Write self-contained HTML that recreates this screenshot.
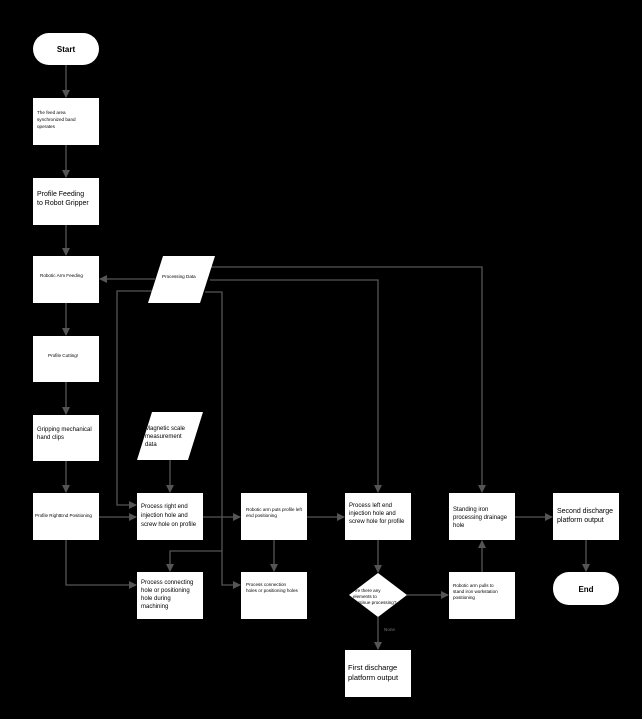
<!DOCTYPE html>
<html><head><meta charset="utf-8"><style>
html,body{margin:0;padding:0;background:#000;}
svg{display:block;}
text{font-family:"Liberation Sans",sans-serif;fill:#000;}
</style></head><body>
<svg width="642" height="719" viewBox="0 0 642 719" xmlns="http://www.w3.org/2000/svg">
<defs><marker id="a" markerWidth="8" markerHeight="8" refX="7" refY="4" orient="auto" markerUnits="userSpaceOnUse"><path d="M0,0 L8,4 L0,8 z" fill="#555"/></marker></defs>
<rect width="642" height="719" fill="#000"/>
<g stroke="#555" stroke-width="1.3" fill="none">
<line x1="66" y1="65" x2="66" y2="97" marker-end="url(#a)"/>
<line x1="66" y1="145" x2="66" y2="177" marker-end="url(#a)"/>
<line x1="66" y1="225" x2="66" y2="255" marker-end="url(#a)"/>
<line x1="66" y1="303" x2="66" y2="335" marker-end="url(#a)"/>
<line x1="66" y1="382" x2="66" y2="414" marker-end="url(#a)"/>
<line x1="66" y1="461" x2="66" y2="492" marker-end="url(#a)"/>
<line x1="155" y1="279" x2="100" y2="279" marker-end="url(#a)"/>
<polyline points="208,267 482,267 482,492" marker-end="url(#a)"/>
<polyline points="210,280 378,280 378,492" marker-end="url(#a)"/>
<polyline points="152,291 117,291 117,505 136,505" marker-end="url(#a)"/>
<polyline points="205,292 222,292 222,585 240,585" marker-end="url(#a)"/>
<polyline points="222,551 170,551 170,571" marker-end="url(#a)"/>
<line x1="170" y1="460" x2="170" y2="492" marker-end="url(#a)"/>
<line x1="99" y1="517" x2="136" y2="517" marker-end="url(#a)"/>
<line x1="203" y1="517" x2="240" y2="517" marker-end="url(#a)"/>
<line x1="307" y1="517" x2="344" y2="517" marker-end="url(#a)"/>
<line x1="515" y1="517" x2="552" y2="517" marker-end="url(#a)"/>
<polyline points="66,540 66,585 136,585" marker-end="url(#a)"/>
<line x1="274" y1="540" x2="274" y2="571" marker-end="url(#a)"/>
<line x1="378" y1="540" x2="378" y2="572" marker-end="url(#a)"/>
<line x1="407" y1="595" x2="448" y2="595" marker-end="url(#a)"/>
<line x1="482" y1="572" x2="482" y2="541" marker-end="url(#a)"/>
<line x1="586" y1="540" x2="586" y2="571" marker-end="url(#a)"/>
<line x1="378" y1="617" x2="378" y2="649" marker-end="url(#a)"/>
</g>
<g fill="#fff">
<rect x="33" y="33" width="66" height="32" rx="16"/>
<rect x="33" y="98" width="66" height="47"/>
<rect x="33" y="178" width="66" height="47"/>
<rect x="33" y="256" width="66" height="47"/>
<rect x="33" y="336" width="66" height="46"/>
<rect x="33" y="415" width="66" height="46"/>
<rect x="33" y="493" width="66" height="47"/>
<polygon points="163,256 215,256 200,303 148,303"/>
<polygon points="152,412 203,412 188,460 137,460"/>
<rect x="137" y="493" width="66" height="47"/>
<rect x="241" y="493" width="66" height="47"/>
<rect x="345" y="493" width="66" height="47"/>
<rect x="449" y="493" width="66" height="47"/>
<rect x="553" y="493" width="66" height="47"/>
<rect x="137" y="572" width="66" height="47"/>
<rect x="241" y="572" width="66" height="47"/>
<polygon points="378,573 407,595 378,617 349,595"/>
<rect x="449" y="572" width="66" height="47"/>
<rect x="553" y="572" width="66" height="33" rx="16"/>
<rect x="345" y="650" width="66" height="47"/>
</g>
<g font-size="8">
<text x="66" y="52" text-anchor="middle" font-weight="bold">Start</text>
<text x="586" y="592" text-anchor="middle" font-weight="bold">End</text>
</g>
<g font-size="4.6">
<text x="37" y="114">The feed area</text><text x="37" y="121">synchronized band</text><text x="37" y="128">operates</text>
<text x="40" y="277">Robotic Arm Feeding</text>
<text x="48" y="357">Profile Cutting!</text>
<text x="35" y="517">Profile RightEnd Positioning</text>
<text x="162" y="278">Processing Data</text>
<text x="246" y="511">Robotic arm puts profile left</text><text x="246" y="517">end positioning</text>
<text x="246" y="586">Process connection</text><text x="246" y="592">holes or positioning holes</text>
<text x="353" y="592">Are there any</text><text x="353" y="598">elements to</text><text x="353" y="604">continue processing?</text>
<text x="453" y="587">Robotic arm pulls to</text><text x="453" y="593">stand iron workstation</text><text x="453" y="599">positioning</text>
</g>
<g font-size="6">
<text x="37" y="431">Gripping mechanical</text><text x="37" y="439">hand clips</text>
<text x="145" y="430">Magnetic scale</text><text x="145" y="438">measurement</text><text x="145" y="446">data</text>
<text x="141" y="508">Process right end</text><text x="141" y="517">injection hole and</text><text x="141" y="526">screw hole on profile</text>
<text x="141" y="584">Process connecting</text><text x="141" y="592">hole or positioning</text><text x="141" y="600">hole during</text><text x="141" y="608">machining</text>
<text x="349" y="507">Process left end</text><text x="349" y="515">injection hole and</text><text x="349" y="523">screw hole for profile</text>
<text x="453" y="511">Standing iron</text><text x="453" y="519">processing drainage</text><text x="453" y="527">hole</text>
</g>
<g font-size="7">
<text x="37" y="196">Profile Feeding</text><text x="37" y="205">to Robot Gripper</text>
<text x="557" y="513">Second discharge</text><text x="557" y="522">platform output</text>
</g>
<g font-size="7.5">
<text x="348" y="670">First discharge</text><text x="348" y="680">platform output</text>
</g>
<text x="384" y="631" font-size="4.6" fill="#777" style="fill:#777">None</text>
</svg>
</body></html>
